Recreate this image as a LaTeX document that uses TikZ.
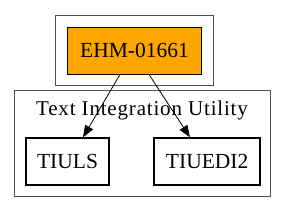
\documentclass[tikz,border=0pt]{standalone}
\usepackage{fontspec}
\setmainfont{Liberation Serif}
\newfontfamily\grptitlefont[LetterSpace=3.9]{Liberation Serif}
\usetikzlibrary{arrows.meta, positioning, fit}
\definecolor{EhmOrange}{HTML}{FFA500}
\definecolor{GrpLine}{HTML}{505050}

\begin{document}
\begin{tikzpicture}[
      x=1pt, y=1pt,
      every node/.style={font=\fontsize{21.5}{25}\selectfont},
      ehmbox/.style={draw=black, fill=EhmOrange, line width=0.8pt,
                     minimum height=47pt, inner xsep=13pt},
      leaf/.style={draw=black, fill=white, line width=2pt,
                   minimum height=47pt, inner xsep=11.5pt},
      grp/.style={draw=GrpLine, line width=1pt, inner sep=10pt},
      link/.style={-{Triangle[length=12pt, width=9pt]}, line width=0.8pt, black},
      grouptitle/.style={inner sep=0pt, font=\grptitlefont\fontsize{21}{24}\selectfont}
    ]
    \useasboundingbox (0,0) rectangle (284,-212);

    \node[ehmbox] (ehm) at (134.5,-50.5) {EHM-01661};
    \node[grp, inner sep=11pt, fit=(ehm)] (top) {};

    \node[leaf, below=63pt of ehm, xshift=-67pt] (tiuls)   {TIULS};
    \node[leaf, right=43pt of tiuls]             (tiuedi2) {TIUEDI2};
    \node[grouptitle] (tiutitle) at (142,-110) {Text Integration Utility};

    \node[grp, fit=(tiuls)(tiuedi2)(tiutitle)] (tiu) {};

    \draw[link] (ehm.south -| 120,0) -- (tiuls.north -| 83,0);
    \draw[link] (ehm.south -| 149,0) -- (tiuedi2.north -| 190,0);

  \end{tikzpicture}
\end{document}
